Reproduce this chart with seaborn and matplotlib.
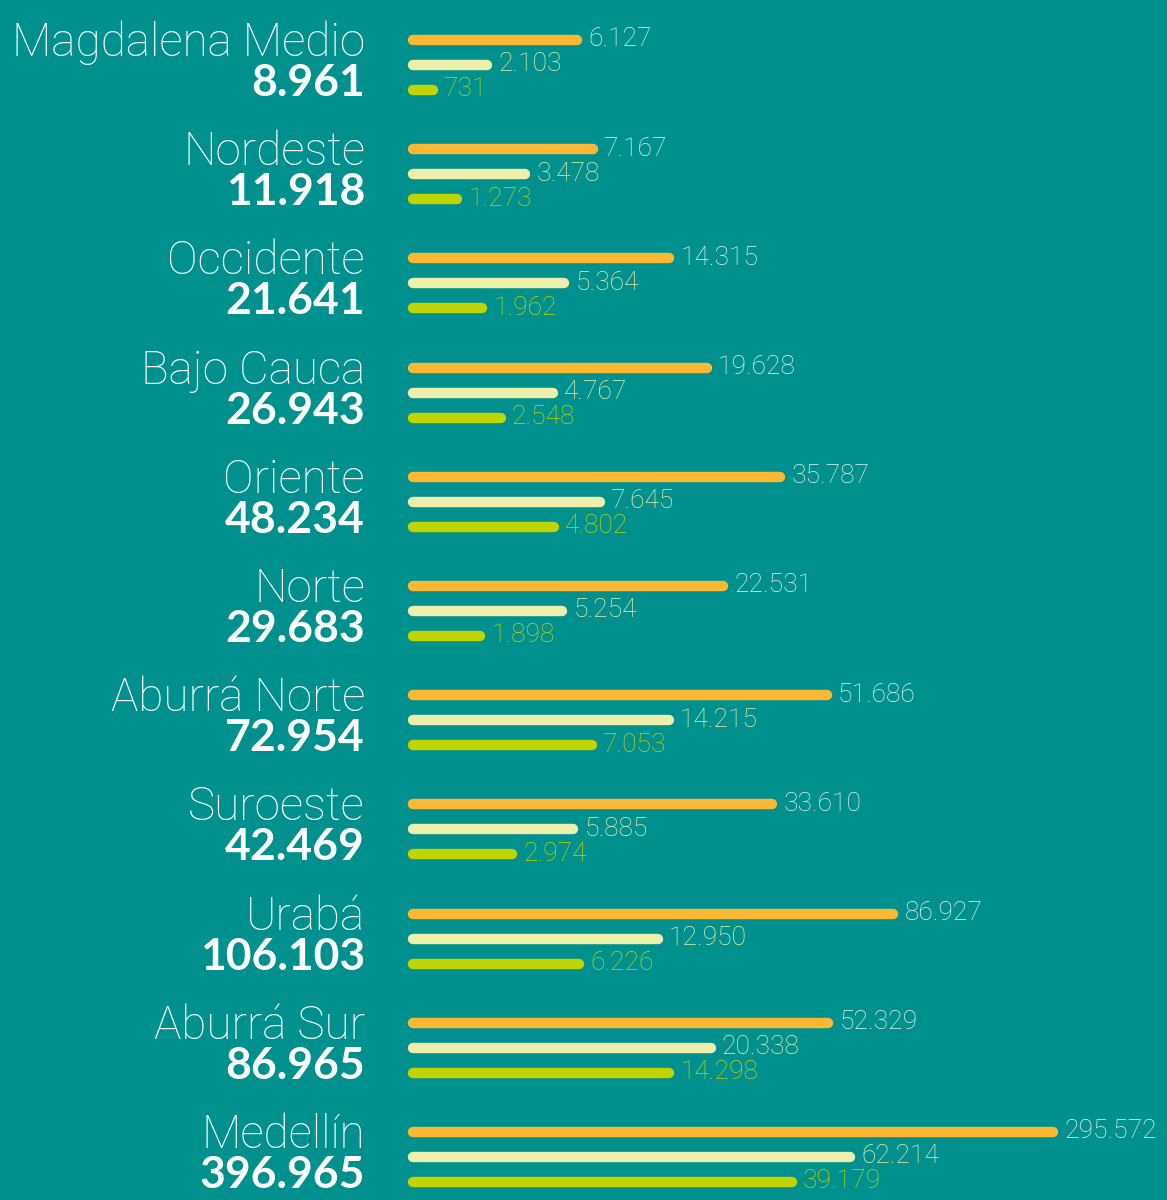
import numpy as np
import matplotlib.pyplot as plt
import matplotlib.transforms as mtransforms
import seaborn as sns

# ── data ───────────────────────────────────────
regiones = ["Magdalena Medio", "Nordeste", "Occidente", "Bajo Cauca", "Oriente",
            "Norte", "Aburrá Norte", "Suroeste", "Urabá", "Aburrá Sur", "Medellín"]
totales = [8961, 11918, 21641, 26943, 48234, 29683, 72954, 42469, 106103, 86965, 396965]
serie_naranja = [6127, 7167, 14315, 19628, 35787, 22531, 51686, 33610, 86927, 52329, 295572]
serie_crema = [2103, 3478, 5364, 4767, 7645, 5254, 14215, 5885, 12950, 20338, 62214]
serie_lima = [731, 1273, 1962, 2548, 4802, 1898, 7053, 2974, 6226, 14298, 39179]

series = [serie_naranja, serie_crema, serie_lima]

# ── style ──────────────────────────────────────
BG = "#00918f"
colores_barra = ["#fdb833", "#eeefaa", "#c0d400"]
colores_texto = ["#e6f3f1", "#eeefaa", "#c0d400"]
LIGHT = ["Roboto", "DejaVu Sans"]

sns.set_theme(style="white")
plt.rcParams["font.family"] = ["Lato", "DejaVu Sans"]


def fmt(v):
    return f"{v:,}".replace(",", ".")


W, H = 1167, 1200
fig = plt.figure(figsize=(W / 100, H / 100), dpi=100, facecolor=BG)

x0_px = 413            # where the bars begin (cap adds a bit on the left)
ax = fig.add_axes([x0_px / W, 0, 1 - x0_px / W, 1])
ax.set_facecolor("none")

# compressed scale: log10(x + shift)
SHIFT = 2000
ax.set_xscale("function", functions=(lambda x: np.log10(np.clip(x + SHIFT, 1, None)),
                                     lambda y: 10 ** y - SHIFT))
f0, px_dec = 3.37, 304.2
base = 10 ** f0 - SHIFT
ax.set_xlim(base, 10 ** (f0 + (W - x0_px) / px_dec) - SHIFT)

gap_px, top_px = 109.2, 40
ax.set_ylim((H - top_px) / gap_px, -top_px / gap_px)
ax.axis("off")

n = len(regiones)
paso = 25 / gap_px
for j, (vals, cb, ct) in enumerate(zip(series, colores_barra, colores_texto)):
    ys = np.arange(n) + j * paso
    lc = ax.hlines(ys, base, vals, colors=cb, linewidth=7.5, clip_on=False)
    lc.set_capstyle("round")
    for y, v in zip(ys, vals):
        ax.annotate(fmt(v), (v, y), xytext=(8, 0.5), textcoords="offset points",
                    ha="left", va="center", color=ct, fontsize=19,
                    family=LIGHT, fontweight="light")

# region names + totals on the left
trans = mtransforms.blended_transform_factory(fig.transFigure, ax.transData)
for i, (reg, tot) in enumerate(zip(regiones, totales)):
    ax.text(365 / W, i + 16 / gap_px, reg, transform=trans, ha="right",
            va="baseline", color="white", fontsize=33,
            family=LIGHT, fontweight="light")
    ax.text(365 / W, i + 56 / gap_px, fmt(tot), transform=trans, ha="right",
            va="baseline", color="white", fontsize=32, fontweight="bold")

fig.savefig("out.png", dpi=100, facecolor=BG)
